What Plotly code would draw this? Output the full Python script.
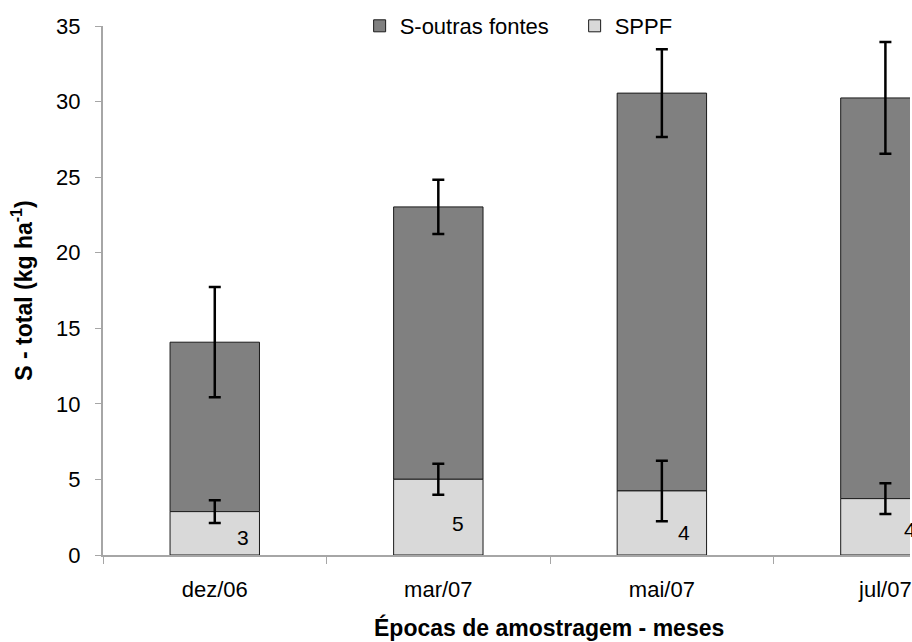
import plotly.graph_objects as go

# ---- data ----
categories = ["dez/06", "mar/07", "mai/07", "jul/07"]
sppf = [2.87, 5.01, 4.24, 3.73]
sppf_err = [0.75, 1.03, 2.0, 1.02]
s_outras = [11.21, 18.02, 26.32, 26.51]   # stacked on top of SPPF
total_err = [3.65, 1.8, 2.9, 3.7]
y_ticks = [0, 5, 10, 15, 20, 25, 30, 35]

FONT = "Liberation Sans, Arial, sans-serif"

fig = go.Figure()

fig.add_trace(go.Bar(
    name="S-outras fontes",
    x=categories, y=s_outras, base=sppf,
    marker=dict(color="#808080", line=dict(color="#1a1a1a", width=1)),
    error_y=dict(type="data", array=total_err, visible=True,
                 color="black", thickness=2.5, width=6),
))
fig.add_trace(go.Bar(
    name="SPPF",
    x=categories, y=sppf,
    marker=dict(color="#D9D9D9", line=dict(color="#1a1a1a", width=1)),
    error_y=dict(type="data", array=sppf_err, visible=True,
                 color="black", thickness=2.5, width=6),
))

# value labels inside the SPPF bars
label_dx = [28, 20, 22, 25]
label_y = [1.16, 2.08, 1.52, 1.72]
for i, c in enumerate(categories):
    fig.add_annotation(x=c, y=label_y[i], xref="x", yref="y",
                       text=f"{sppf[i]:.0f}", showarrow=False,
                       xshift=label_dx[i], font=dict(size=21, color="black", family=FONT))

# x axis title (centered on full original plot area)
fig.add_annotation(x=0.5526, y=-0.137, xref="paper", yref="paper",
                   text="<b>Épocas de amostragem - meses</b>", showarrow=False,
                   xanchor="center", yanchor="middle",
                   font=dict(size=23, color="black", family=FONT))

fig.update_layout(
    width=912, height=642,
    margin=dict(l=103, r=0, t=26, b=87),
    paper_bgcolor="white", plot_bgcolor="white",
    barmode="overlay", bargap=0.6,
    font=dict(family=FONT, size=22, color="black"),
    showlegend=True,
    legend=dict(orientation="h", x=0.318, y=1.0, xanchor="left", yanchor="middle",
                font=dict(size=22, family=FONT), bgcolor="rgba(0,0,0,0)",
                traceorder="normal", entrywidth=170, entrywidthmode="pixels"),
    xaxis=dict(
        type="category", range=[-0.5, 3.11],
        tickson="boundaries", ticks="outside", ticklen=7, tickcolor="#A6A6A6",
        showline=True, linecolor="#A6A6A6", linewidth=2,
        showgrid=False, zeroline=False,
        tickfont=dict(size=22, family=FONT), ticklabelstandoff=14,
    ),
    yaxis=dict(
        range=[0, 35], tickvals=y_ticks,
        ticks="outside", ticklen=6, tickcolor="#A6A6A6",
        showline=True, linecolor="#A6A6A6", linewidth=2,
        showgrid=False, zeroline=False,
        tickfont=dict(size=22, family=FONT), ticklabelstandoff=10,
        title=dict(text="<b>S - total (kg ha<sup>-1</sup>)</b>",
                   font=dict(size=23, family=FONT), standoff=17),
    ),
)

fig.write_html("out.html")
